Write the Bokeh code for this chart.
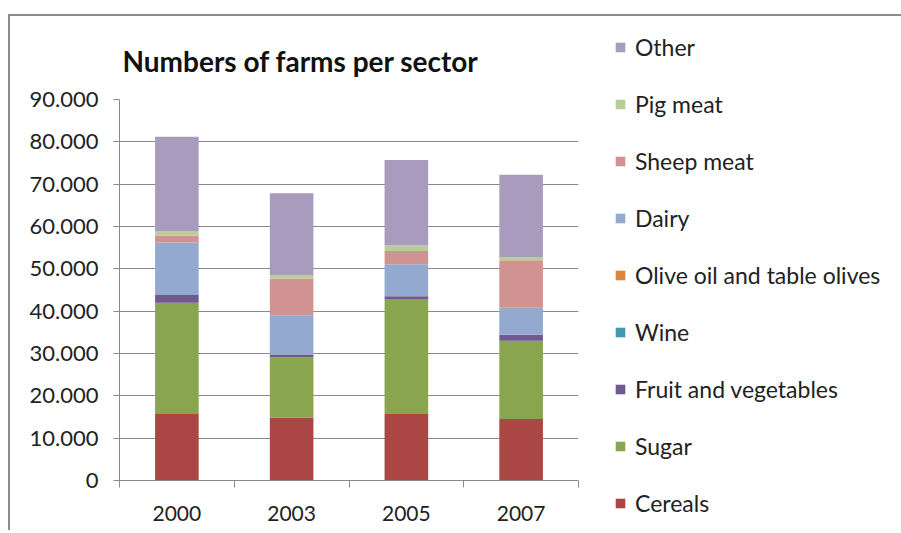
from bokeh.plotting import figure
from bokeh.models import FixedTicker, Range1d, Legend, LegendItem, ColumnDataSource
from bokeh.embed import file_html
from bokeh.resources import INLINE

years = ["2000", "2003", "2005", "2007"]
cereals = [15700, 14900, 15700, 14500]
sugar = [26300, 14200, 27200, 18500]
fruit_veg = [1800, 550, 600, 1400]
wine = [0, 0, 0, 0]
olive = [0, 0, 0, 0]
dairy = [12400, 9400, 7600, 6400]
sheep = [1700, 8600, 3100, 11200]
pig = [900, 800, 1300, 800]
other = [22400, 19400, 20200, 19400]

series_names = ["Cereals", "Sugar", "Fruit and vegetables", "Wine",
                "Olive oil and table olives", "Dairy", "Sheep meat", "Pig meat", "Other"]
series_values = [cereals, sugar, fruit_veg, wine, olive, dairy, sheep, pig, other]
colors = ["#AA4643", "#89A54E", "#71588F", "#4198AF", "#DB843D",
          "#93A9CF", "#D19392", "#B9CD96", "#A99BBD"]

y_ticks = [0, 10000, 20000, 30000, 40000, 50000, 60000, 70000, 80000, 90000]
y_tick_labels = ["0", "10.000", "20.000", "30.000", "40.000", "50.000",
                 "60.000", "70.000", "80.000", "90.000"]

FONT = "Lato"
TXT = "#222222"
GRID = "#8a8a8a"

xs = [i + 0.5 for i in range(len(years))]
data = {"x": xs}
keys = []
for i, vals in enumerate(series_values):
    k = "s%d" % i
    keys.append(k)
    data[k] = vals
source = ColumnDataSource(data)

p = figure(frame_width=459, frame_height=381, output_backend="svg", toolbar_location=None,
           x_range=Range1d(0, len(years)), y_range=Range1d(0, 90000),
           min_border_left=109, min_border_right=0, min_border_top=83, min_border_bottom=50)
p.styles = {"border-top": "2px solid #8c8c8c", "border-left": "2px solid #8c8c8c",
            "margin-top": "14px", "margin-left": "8px"}

renderers = p.vbar_stack(keys, x="x", width=0.38, color=colors, source=source, line_width=0)

p.outline_line_color = None
p.background_fill_color = "white"
p.border_fill_color = "white"

p.title.text = "Numbers of farms per sector"
p.title.text_font = FONT
p.title.text_font_size = "28px"
p.title.text_font_style = "bold"
p.title.text_color = "#111111"
p.title.align = "left"
p.title.offset = 3
p.title.standoff = 44

# y axis
p.yaxis.ticker = FixedTicker(ticks=y_ticks)
p.yaxis.major_label_overrides = {t: l for t, l in zip(y_ticks, y_tick_labels)}
p.yaxis.major_label_text_font = FONT
p.yaxis.major_label_text_font_size = "22px"
p.yaxis.major_label_text_color = TXT
p.yaxis.axis_line_color = GRID
p.yaxis.major_tick_line_color = GRID
p.yaxis.major_tick_out = 6
p.yaxis.major_tick_in = 0
p.yaxis.minor_tick_line_color = None
p.yaxis.major_label_standoff = 15

# x axis
p.xaxis.ticker = FixedTicker(ticks=xs, minor_ticks=list(range(len(years) + 1)))
p.xaxis.major_label_overrides = {x: y for x, y in zip(xs, years)}
p.xaxis.major_label_text_font = FONT
p.xaxis.major_label_text_font_size = "21px"
p.xaxis.major_label_text_color = TXT
p.xaxis.axis_line_color = GRID
p.xaxis.major_tick_line_color = None
p.xaxis.major_tick_out = 0
p.xaxis.major_tick_in = 0
p.xaxis.minor_tick_line_color = GRID
p.xaxis.minor_tick_out = 7
p.xaxis.minor_tick_in = 0
p.xaxis.major_label_standoff = 18

p.xgrid.grid_line_color = None
p.ygrid.grid_line_color = GRID
p.ygrid.grid_line_width = 1

items = [LegendItem(label=series_names[i], renderers=[renderers[i]])
         for i in reversed(range(len(series_names)))]
legend = Legend(items=items, location=(36, -37), orientation="vertical",
                label_text_font=FONT, label_text_font_size="23px", label_text_color=TXT,
                glyph_width=12, glyph_height=12, label_standoff=9,
                label_height=26, spacing=29, padding=0, margin=0,
                border_line_color=None, background_fill_alpha=0)
p.add_layout(legend, "right")

open("out.html", "w").write(file_html(p, INLINE))
